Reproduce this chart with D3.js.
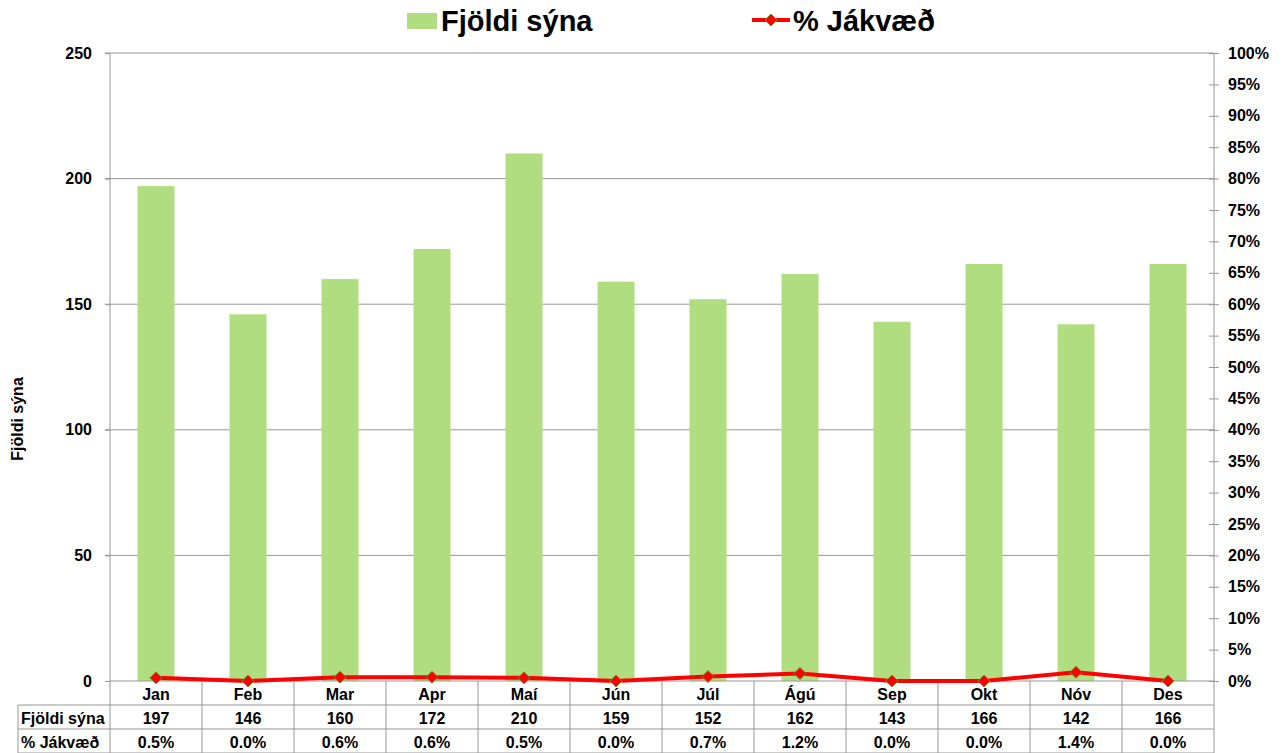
<!DOCTYPE html>
<html>
<head>
<meta charset="utf-8">
<script src="https://cdn.jsdelivr.net/npm/d3@7"></script>
<style>
  body { margin: 0; background: #fff; }
  text { font-family: "Liberation Sans", Arial, sans-serif; font-weight: bold; fill: #000; }
</style>
</head>
<body>
<script>
const months = ['Jan', 'Feb', 'Mar', 'Apr', 'Maí', 'Jún', 'Júl', 'Ágú', 'Sep', 'Okt', 'Nóv', 'Des'];
const samples = [197, 146, 160, 172, 210, 159, 152, 162, 143, 166, 142, 166];
const positive = [0.5, 0.0, 0.6, 0.6, 0.5, 0.0, 0.7, 1.2, 0.0, 0.0, 1.4, 0.0];
const leftTicks = [0, 50, 100, 150, 200, 250];
const rightTicks = d3.range(0, 101, 5);
const seriesNames = ['Fjöldi sýna', '% Jákvæð'];

const W = 1284, H = 753;
const plot = { left: 110, right: 1214, top: 53, bottom: 681 };
const rowH = 24;
const tableLeft = 18;
const fs = '16px';

const svg = d3.select('body').append('svg').attr('width', W).attr('height', H);

const x = d3.scaleBand().domain(months).range([plot.left, plot.right]);
const yL = d3.scaleLinear().domain([0, 250]).range([plot.bottom, plot.top]);
const yR = d3.scaleLinear().domain([0, 100]).range([plot.bottom, plot.top]);
const cx = i => x(months[i]) + x.bandwidth() / 2;

// gridlines
svg.append('g')
  .selectAll('line')
  .data(leftTicks.filter(d => d > 0))
  .enter()
  .append('line')
  .attr('x1', plot.left - 5)
  .attr('x2', plot.right)
  .attr('y1', d => yL(d))
  .attr('y2', d => yL(d))
  .attr('stroke', '#969696')
  .attr('stroke-width', 1);

// bars
const barW = 37;
svg.append('g')
  .selectAll('rect')
  .data(samples)
  .enter()
  .append('rect')
  .attr('x', (d, i) => cx(i) - barW / 2)
  .attr('y', d => yL(d))
  .attr('width', barW)
  .attr('height', d => yL(0) - yL(d))
  .attr('fill', '#b0dd7f');

// left axis
const gL = svg.append('g').attr('transform', `translate(${plot.left},0)`)
  .call(d3.axisLeft(yL).tickValues(leftTicks).tickSize(5).tickPadding(13));
gL.select('.domain').attr('stroke', '#969696').attr('d', `M0,${plot.top}V${plot.bottom}`);
gL.selectAll('.tick line').attr('stroke', '#969696');
gL.selectAll('.tick text').style('font-size', fs).attr('font-family', null);

// right axis
const gR = svg.append('g').attr('transform', `translate(${plot.right},0)`)
  .call(d3.axisRight(yR).tickValues(rightTicks).tickSize(5).tickPadding(9).tickFormat(d => d + '%'));
gR.select('.domain').attr('stroke', '#969696').attr('d', `M0,${plot.top}V${plot.bottom}`);
gR.selectAll('.tick line').attr('stroke', '#969696').attr('x1', -5);
gR.selectAll('.tick text').style('font-size', fs).attr('font-family', null);

// y title
svg.append('text')
  .attr('transform', `translate(23,${(plot.top + plot.bottom) / 2 + 52}) rotate(-90)`)
  .attr('text-anchor', 'middle')
  .style('font-size', fs)
  .text(seriesNames[0]);

// data table
const tbl = svg.append('g');
const gridCol = '#969696';
tbl.append('line').attr('x1', plot.left).attr('x2', plot.right)
  .attr('y1', plot.bottom).attr('y2', plot.bottom).attr('stroke', gridCol);
[1, 2, 3].forEach(r => {
  tbl.append('line')
    .attr('x1', tableLeft)
    .attr('x2', plot.right)
    .attr('y1', plot.bottom + rowH * r)
    .attr('y2', plot.bottom + rowH * r)
    .attr('stroke', gridCol);
});
const bounds = months.map(m => x(m)).concat([plot.right]);
tbl.selectAll('line.v')
  .data(bounds)
  .enter()
  .append('line')
  .attr('class', 'v')
  .attr('x1', d => d).attr('x2', d => d)
  .attr('y1', plot.bottom).attr('y2', plot.bottom + rowH * 3 + 1)
  .attr('stroke', gridCol);
tbl.append('line')
  .attr('x1', tableLeft).attr('x2', tableLeft)
  .attr('y1', plot.bottom + rowH).attr('y2', plot.bottom + rowH * 3 + 1)
  .attr('stroke', gridCol);

tbl.selectAll('text.cat')
  .data(months)
  .enter()
  .append('text')
  .attr('x', d => x(d) + x.bandwidth() / 2)
  .attr('y', plot.bottom + 19)
  .attr('text-anchor', 'middle')
  .style('font-size', fs)
  .text(d => d);
tbl.selectAll('text.n')
  .data(samples)
  .enter()
  .append('text')
  .attr('x', (d, i) => cx(i))
  .attr('y', plot.bottom + rowH + 19)
  .attr('text-anchor', 'middle')
  .style('font-size', fs)
  .text(d => d);
tbl.selectAll('text.p')
  .data(positive)
  .enter()
  .append('text')
  .attr('x', (d, i) => cx(i))
  .attr('y', plot.bottom + rowH * 2 + 19)
  .attr('text-anchor', 'middle')
  .style('font-size', fs)
  .text(d => d.toFixed(1) + '%');
seriesNames.forEach((s, i) => {
  tbl.append('text')
    .attr('x', tableLeft + 3)
    .attr('y', plot.bottom + rowH * (i + 1) + 19)
    .style('font-size', fs)
    .text(s);
});

// line
const line = d3.line()
  .x((d, i) => cx(i))
  .y(d => yR(d));
svg.append('path')
  .datum(positive)
  .attr('d', line)
  .attr('fill', 'none')
  .attr('stroke', '#ff0000')
  .attr('stroke-width', 4)
  .attr('stroke-linejoin', 'round');
const diamond = 'M0,-6L6,0L0,6L-6,0Z';
svg.append('g')
  .selectAll('path')
  .data(positive)
  .enter()
  .append('path')
  .attr('d', diamond)
  .attr('transform', (d, i) => `translate(${cx(i)},${yR(d)})`)
  .attr('fill', '#ff0000')
  .attr('stroke', '#6b8e23')
  .attr('stroke-width', 1);

// legend
const lg = svg.append('g');
lg.append('rect').attr('x', 407).attr('y', 13).attr('width', 30).attr('height', 16).attr('fill', '#b0dd7f');
lg.append('text').attr('x', 441).attr('y', 31).style('font-size', '29px').text(seriesNames[0]);
lg.append('line').attr('x1', 752).attr('x2', 790).attr('y1', 20).attr('y2', 20)
  .attr('stroke', '#ff0000').attr('stroke-width', 4);
lg.append('path').attr('d', diamond).attr('transform', 'translate(771,20)')
  .attr('fill', '#ff0000').attr('stroke', '#6b8e23').attr('stroke-width', 1);
lg.append('text').attr('x', 793).attr('y', 31).style('font-size', '29px').text(seriesNames[1]);
</script>
</body>
</html>
